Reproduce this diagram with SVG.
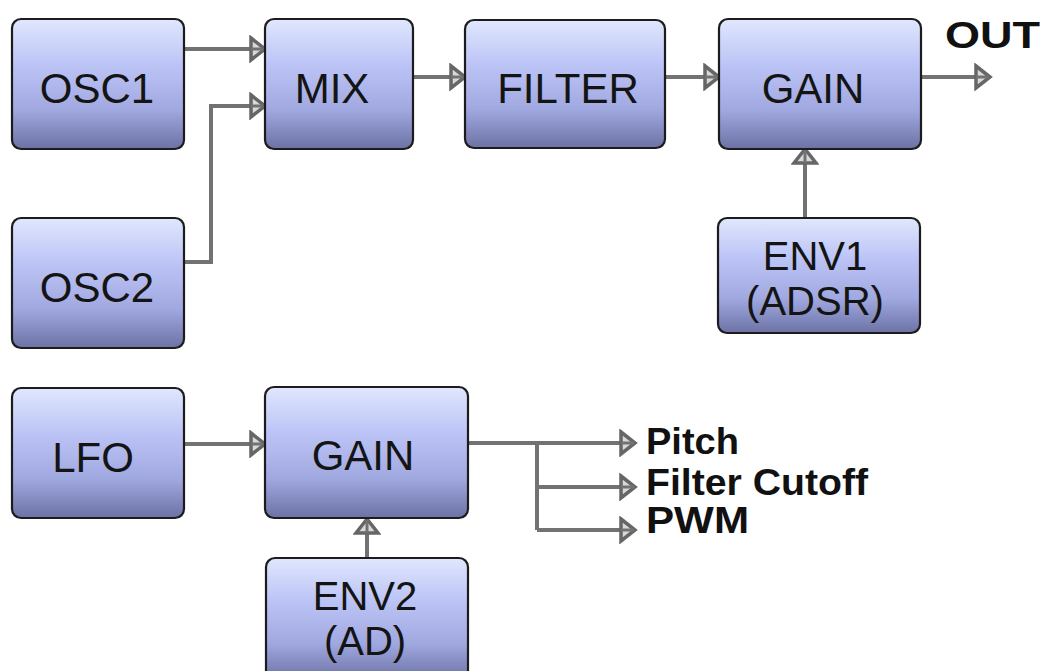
<svg xmlns="http://www.w3.org/2000/svg" width="1043" height="671" viewBox="0 0 1043 671">
  <style>
    .box { fill: url(#boxFill); stroke: #1c1c1c; stroke-width: 2.2; }
    .lbl { font-family: "Liberation Sans", Arial, sans-serif; font-size: 42px; fill: #141414; text-anchor: middle; }
    .lbl2 { font-size: 40px; }
    .sig { font-family: "Liberation Sans", Arial, sans-serif; font-size: 36px; font-weight: bold; fill: #111; }
    .wire { fill: none; stroke: #727272; stroke-width: 4; stroke-linejoin: miter; marker-end: url(#tip); }
    .wire-plain { fill: none; stroke: #727272; stroke-width: 4; }
  </style>
  <defs>
    <linearGradient id="boxFill" x1="0" y1="0" x2="0" y2="1">
      <stop offset="0" stop-color="#e0e7fd"/>
      <stop offset="0.35" stop-color="#bcc4f6"/>
      <stop offset="0.7" stop-color="#a0a8e0"/>
      <stop offset="1" stop-color="#6c72a4"/>
    </linearGradient>
    <!-- hollow triangular arrowhead, tip at the end of the wire -->
    <marker id="tip" markerUnits="userSpaceOnUse" viewBox="-2 -14 20 28" refX="15" refY="0" markerWidth="20" markerHeight="28" orient="auto">
      <path d="M1,-11 L15,0 L1,11 Z" fill="#d8d8d8" stroke="#666" stroke-width="3.5" stroke-linejoin="miter"/>
      <path d="M1,0 L14,0" stroke="#727272" stroke-width="3"/>
    </marker>
  </defs>

  <!-- connectors -->
  <g id="connectors">
    <path class="wire" d="M184,49 H265"/>
    <path class="wire" d="M184,262 H211 V106 H265"/>
    <path class="wire" d="M413,77 H465"/>
    <path class="wire" d="M665,77 H719"/>
    <path class="wire" d="M921,77 H990"/>
    <path class="wire" d="M805,218 V149"/>
    <path class="wire" d="M184,444 H265"/>
    <path class="wire" d="M367,558 V519"/>
    <path class="wire" d="M468,443 H635"/>
    <path class="wire-plain" d="M537,443 V530"/>
    <path class="wire" d="M537,487 H635"/>
    <path class="wire" d="M537,530 H635"/>
  </g>

  <!-- nodes -->
  <g id="osc1">
    <rect class="box" x="12" y="19" width="172" height="130" rx="9"/>
    <text class="lbl" x="97" y="103">OSC1</text>
  </g>
  <g id="osc2">
    <rect class="box" x="12" y="218" width="172" height="130" rx="9"/>
    <text class="lbl" x="97" y="302">OSC2</text>
  </g>
  <g id="mix">
    <rect class="box" x="265" y="19" width="148" height="130" rx="9"/>
    <text class="lbl" x="332" y="103">MIX</text>
  </g>
  <g id="filter">
    <rect class="box" x="465" y="20" width="200" height="128" rx="9"/>
    <text class="lbl" x="568" y="103">FILTER</text>
  </g>
  <g id="gain1">
    <rect class="box" x="719" y="19" width="202" height="130" rx="9"/>
    <text class="lbl" x="813" y="103">GAIN</text>
  </g>
  <g id="env1">
    <rect class="box" x="718" y="218" width="202" height="115" rx="9"/>
    <text class="lbl lbl2" x="815" y="270">ENV1</text>
    <text class="lbl lbl2" x="815" y="315">(ADSR)</text>
  </g>
  <g id="lfo">
    <rect class="box" x="12" y="388" width="172" height="130" rx="9"/>
    <text class="lbl" x="93" y="472">LFO</text>
  </g>
  <g id="gain2">
    <rect class="box" x="265" y="387" width="203" height="131" rx="9"/>
    <text class="lbl" x="363" y="470">GAIN</text>
  </g>
  <g id="env2">
    <rect class="box" x="266" y="558" width="202" height="122" rx="9"/>
    <text class="lbl lbl2" x="365" y="610">ENV2</text>
    <text class="lbl lbl2" x="365" y="655">(AD)</text>
  </g>

  <!-- output labels -->
  <g id="labels">
    <text class="sig" x="945" y="48" font-size="42" textLength="95" lengthAdjust="spacingAndGlyphs">OUT</text>
    <text class="sig" x="646" y="454" textLength="93" lengthAdjust="spacingAndGlyphs">Pitch</text>
    <text class="sig" x="646" y="495" textLength="222" lengthAdjust="spacingAndGlyphs">Filter Cutoff</text>
    <text class="sig" x="646" y="533" textLength="103" lengthAdjust="spacingAndGlyphs">PWM</text>
  </g>
</svg>
